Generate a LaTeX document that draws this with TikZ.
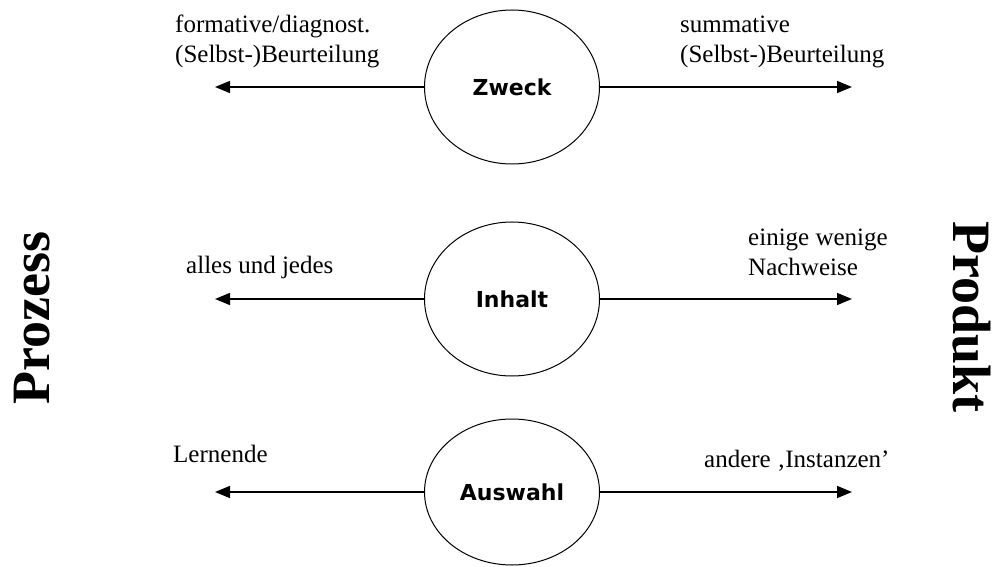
\documentclass[tikz,border=0pt]{standalone}
\usepackage{fontspec}
\setmainfont{Liberation Serif}
\newfontfamily\aspectfont{DejaVu Sans}
\usetikzlibrary{shapes.geometric,arrows.meta}
\tikzset{
  aspect/.style={ellipse,draw,line width=1pt,minimum width=175pt,minimum height=154pt,
    inner sep=0pt,font=\aspectfont\bfseries\fontsize{22}{26}\selectfont},
  pole/.style={-{Triangle[length=15pt,width=12pt]},line width=1.5pt},
  note/.style={anchor=base west,inner sep=0pt,align=left,font=\fontsize{25}{30}\selectfont},
  side/.style={inner sep=0pt,font=\bfseries\fontsize{54}{60}\selectfont}
}
\begin{document}
\begin{tikzpicture}[x=1pt,y=-1pt]
  \useasboundingbox (0,0) rectangle (997,567);
  \draw
    (512,87) node[aspect] (zweck){Zweck}
    (512,299) node[aspect] (inhalt){Inhalt}
    (512,492) node[aspect,minimum height=146pt] (auswahl){Auswahl};
  \coordinate (zweckL) at (215,87);
  \coordinate (zweckR) at (852,87);
  \coordinate (inhaltL) at (215,299);
  \coordinate (inhaltR) at (852,299);
  \coordinate (auswahlL) at (215,492);
  \coordinate (auswahlR) at (852,492);
  \begin{scope}[pole]
    \draw (zweck.west) -- (zweckL);
    \draw (zweck.east) -- (zweckR);
    \draw (inhalt.west) -- (inhaltL);
    \draw (inhalt.east) -- (inhaltR);
    \draw (auswahl.west) -- (auswahlL);
    \draw (auswahl.east) -- (auswahlR);
  \end{scope}
  % base anchor of two-line notes sits on the last line
  \draw
    (175,63) node[note] (formativ){formative/diagnost.\\(Selbst-)Beurteilung}
    (680,63) node[note] (summativ){summative\\(Selbst-)Beurteilung}
    (186,273) node[note] (alles){alles und jedes}
    (748,275) node[note] (wenige){einige wenige\\Nachweise}
    (173,462) node[note] (lernende){Lernende}
    (704,467) node[note] (instanzen){andere ‚Instanzen’};
  \node[side,rotate=90] (prozess) at (32,318) {Prozess};
  \node[side,rotate=-90] (produkt) at (972,317) {Produkt};
\end{tikzpicture}
\end{document}
